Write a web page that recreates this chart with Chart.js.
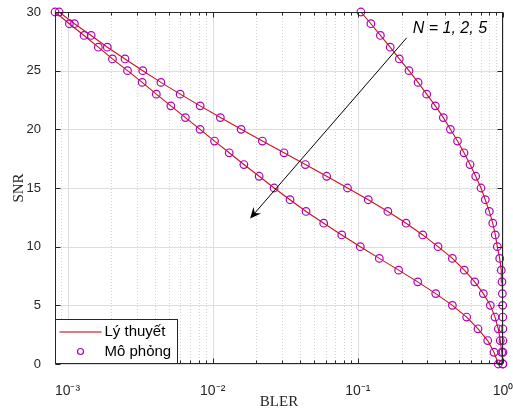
<!DOCTYPE html>
<html>
<head>
<meta charset="utf-8">
<script src="https://cdn.jsdelivr.net/npm/chart.js@4.4.0/dist/chart.umd.min.js"></script>
<style>
  html, body { margin: 0; padding: 0; background: #fff; }
  #wrap { width: 513px; height: 414px; }
</style>
</head>
<body>
<div id="wrap"><canvas id="blerChart" width="513" height="414"></canvas></div>
<script>
// SNR points shared by every curve
const snr = [0, 1, 2, 3, 4, 5, 6, 7, 8, 9, 10, 11, 12, 13, 14, 15,
             16, 17, 18, 19, 20, 21, 22, 23, 24, 25, 26, 27, 28, 29, 30];

// BLER per SNR (theory and simulation sit on top of each other)
const blerN1 = [1.0, 1.0, 0.999, 0.998, 0.997, 0.995, 0.99, 0.984, 0.973, 0.949, 0.9135,
                0.885, 0.85, 0.805, 0.755, 0.7055, 0.6486, 0.593, 0.539, 0.486, 0.434,
                0.388, 0.342, 0.298, 0.26, 0.225, 0.193, 0.167, 0.143, 0.123, 0.105];
const blerN2 = [0.995, 0.98, 0.958, 0.928, 0.881, 0.818, 0.732, 0.6385, 0.5415, 0.448, 0.357,
                0.28, 0.215, 0.161, 0.118, 0.0849, 0.061, 0.0435, 0.031, 0.022, 0.0157,
                0.0113, 0.0082, 0.00597, 0.0044, 0.0033, 0.00249, 0.00188, 0.001455, 0.001116, 0.000875];
const blerN5 = [0.928, 0.867, 0.7845, 0.673, 0.562, 0.448, 0.344, 0.2586, 0.191, 0.1406, 0.104,
                0.0775, 0.0582, 0.044, 0.0341, 0.0265, 0.0209, 0.0164, 0.013, 0.0103, 0.00819,
                0.00649, 0.00515, 0.00409, 0.00327, 0.00259, 0.00204, 0.00163, 0.0013, 0.00103, 0.00082];

const xMin = 0.00082;
const xMax = 1;
const xTicks = [1e-3, 1e-2, 1e-1, 1];
const xTickLabels = ["10⁻³", "10⁻²", "10⁻¹", "10⁰"];
const yTicks = [0, 5, 10, 15, 20, 25, 30];

const legendLabels = ["Lý thuyết", "Mô phỏng"];
const annotationText = "N = 1, 2, 5";
// annotation anchors in data units (BLER, SNR)
const arrowFrom = { x: 0.217, y: 27.8 };
const arrowTo = { x: 0.0181, y: 12.4 };
const textAt = { x: 0.239, y: 28.6 };

const lineColor = "#d0101e";
const markerColor = "#b000b4";
const axisColor = "#262626";

function toPoints(bler) {
    return snr.map((s, i) => ({ x: bler[i], y: s }));
}

// minor log positions 2..9 x 10^n inside the x range
function minorTicks() {
    const out = [];
    for (let e = -4; e < 0; e++) {
        for (let k = 2; k <= 9; k++) {
            const v = k * Math.pow(10, e);
            if (v > xMin && v < xMax) out.push(v);
        }
    }
    return out;
}

const curves = [blerN1, blerN2, blerN5];
const datasets = [];

// markers first so they are drawn on top of the lines
curves.forEach(b => {
    datasets.push({
        label: legendLabels[1],
        data: toPoints(b),
        showLine: false,
        pointStyle: "circle",
        pointRadius: 3.8,
        pointBorderWidth: 1.2,
        pointBorderColor: markerColor,
        pointBackgroundColor: "rgba(0,0,0,0)",
        clip: false
    });
});
curves.forEach(b => {
    datasets.push({
        label: legendLabels[0],
        data: toPoints(b),
        showLine: true,
        borderColor: lineColor,
        borderWidth: 1.1,
        pointRadius: 0,
        tension: 0
    });
});

function strokeLine(ctx, x1, y1, x2, y2) {
    ctx.beginPath();
    ctx.moveTo(x1, y1);
    ctx.lineTo(x2, y2);
    ctx.stroke();
}

const framePlugin = {
    id: "frame",
    beforeDatasetsDraw(chart) {
        const { ctx, chartArea: a, scales: { x, y } } = chart;
        ctx.save();
        ctx.lineWidth = 1;

        // dotted minor grid on the log axis
        ctx.strokeStyle = "#d2d2d2";
        ctx.setLineDash([1, 2]);
        minorTicks().forEach(v => {
            const px = Math.round(x.getPixelForValue(v)) + 0.5;
            strokeLine(ctx, px, a.top, px, a.bottom);
        });
        ctx.setLineDash([]);

        // major grid
        ctx.strokeStyle = "#dedede";
        xTicks.forEach(v => {
            const px = Math.round(x.getPixelForValue(v)) + 0.5;
            strokeLine(ctx, px, a.top, px, a.bottom);
        });
        yTicks.forEach(v => {
            const py = Math.round(y.getPixelForValue(v)) + 0.5;
            strokeLine(ctx, a.left, py, a.right, py);
        });
        ctx.restore();
    },
    afterDraw(chart) {
        const { ctx, chartArea: a, scales: { x, y } } = chart;
        ctx.save();

        // axes box and inward ticks
        ctx.strokeStyle = axisColor;
        ctx.lineWidth = 1;
        const L = Math.round(a.left) + 0.5, R = Math.round(a.right) - 0.5;
        const T = Math.round(a.top) + 0.5, B = Math.round(a.bottom) - 0.5;
        ctx.strokeRect(L, T, R - L, B - T);
        xTicks.forEach(v => {
            const px = Math.round(x.getPixelForValue(v)) + 0.5;
            strokeLine(ctx, px, B, px, B - 5);
            strokeLine(ctx, px, T, px, T + 5);
        });
        minorTicks().forEach(v => {
            const px = Math.round(x.getPixelForValue(v)) + 0.5;
            strokeLine(ctx, px, B, px, B - 3);
            strokeLine(ctx, px, T, px, T + 3);
        });
        yTicks.forEach(v => {
            const py = Math.round(y.getPixelForValue(v)) + 0.5;
            strokeLine(ctx, L, py, L + 5, py);
            strokeLine(ctx, R, py, R - 5, py);
        });

        // legend, bottom-left inside the axes
        const lw = 122, lh = 44;
        const lx = L, lb = B;
        ctx.fillStyle = "#ffffff";
        ctx.fillRect(lx, lb - lh, lw, lh);
        ctx.strokeStyle = axisColor;
        ctx.strokeRect(lx, lb - lh, lw, lh);
        ctx.strokeStyle = "#dc4a5c";
        ctx.lineWidth = 1.6;
        strokeLine(ctx, lx + 4, lb - 31.5, lx + 46, lb - 31.5);
        ctx.lineWidth = 1.2;
        ctx.strokeStyle = markerColor;
        ctx.beginPath();
        ctx.arc(lx + 25, lb - 12, 3, 0, Math.PI * 2);
        ctx.stroke();
        ctx.fillStyle = "#000000";
        ctx.font = "15px 'Liberation Sans', Arial, sans-serif";
        ctx.textBaseline = "middle";
        ctx.textAlign = "left";
        ctx.fillText(legendLabels[0], lx + 49, lb - 32);
        ctx.fillText(legendLabels[1], lx + 49, lb - 12);

        // annotation arrow
        ctx.lineWidth = 1;
        const x0 = x.getPixelForValue(arrowFrom.x), y0 = y.getPixelForValue(arrowFrom.y);
        const x1 = x.getPixelForValue(arrowTo.x), y1 = y.getPixelForValue(arrowTo.y);
        const ang = Math.atan2(y1 - y0, x1 - x0);
        const ux = Math.cos(ang), uy = Math.sin(ang);
        const headLen = 11, headHalf = 5;
        ctx.strokeStyle = "#000000";
        ctx.fillStyle = "#000000";
        strokeLine(ctx, x0, y0, x1 - ux * 6, y1 - uy * 6);
        ctx.beginPath();
        ctx.moveTo(x1, y1);
        ctx.lineTo(x1 - ux * headLen - uy * headHalf, y1 - uy * headLen + ux * headHalf);
        ctx.lineTo(x1 - ux * headLen * 0.65, y1 - uy * headLen * 0.65);
        ctx.lineTo(x1 - ux * headLen + uy * headHalf, y1 - uy * headLen - ux * headHalf);
        ctx.closePath();
        ctx.fill();

        ctx.font = "italic 16px 'Liberation Sans', Arial, sans-serif";
        ctx.textBaseline = "middle";
        ctx.fillText(annotationText, x.getPixelForValue(textAt.x), y.getPixelForValue(textAt.y));
        ctx.restore();
    }
};

const tickFont = { family: "'Liberation Sans', Arial, sans-serif", size: 13 };
const titleFont = { family: "'Liberation Serif', 'Times New Roman', serif", size: 15 };

new Chart(document.getElementById("blerChart"), {
    type: "scatter",
    data: { datasets: datasets },
    options: {
        responsive: false,
        animation: false,
        devicePixelRatio: 1,
        layout: { padding: { top: 12, right: 10, left: 0, bottom: 0 } },
        plugins: {
            legend: { display: false },
            tooltip: { enabled: false }
        },
        scales: {
            x: {
                type: "logarithmic",
                min: xMin,
                max: xMax,
                grid: { display: false },
                border: { display: false },
                afterBuildTicks: s => { s.ticks = xTicks.map(v => ({ value: v })); },
                afterFit: s => {
                    s.height = 50;
                    s.paddingLeft = 0;
                    s.paddingRight = 0;
                },
                ticks: {
                    autoSkip: false,
                    maxRotation: 0,
                    padding: 11,
                    color: axisColor,
                    font: { family: tickFont.family, size: 14 },
                    callback: v => {
                        const i = xTicks.indexOf(v);
                        return i >= 0 ? xTickLabels[i] : "";
                    }
                },
                title: {
                    display: true,
                    text: "BLER",
                    color: axisColor,
                    font: titleFont,
                    padding: { top: 0, bottom: 3 }
                }
            },
            y: {
                min: 0,
                max: 30,
                grid: { display: false },
                border: { display: false },
                afterFit: s => {
                    s.width = 55;
                    s.paddingTop = 0;
                    s.paddingBottom = 0;
                },
                ticks: {
                    stepSize: 5,
                    padding: 6,
                    color: axisColor,
                    font: tickFont
                },
                title: {
                    display: true,
                    text: "SNR",
                    color: axisColor,
                    font: titleFont,
                    padding: { top: 10, bottom: 0 }
                }
            }
        }
    },
    plugins: [framePlugin]
});
</script>
</body>
</html>
